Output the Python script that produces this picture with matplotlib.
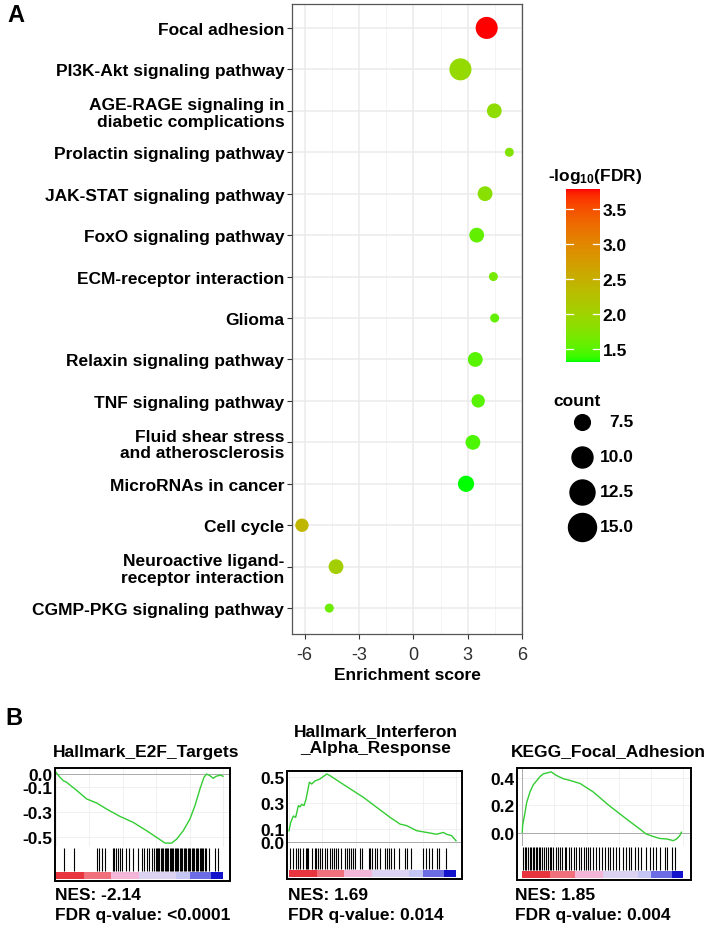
import numpy as np
import matplotlib
matplotlib.use("Agg")
import matplotlib.pyplot as plt
from matplotlib.colors import ListedColormap, Normalize, to_rgb
from matplotlib.lines import Line2D
from matplotlib.patches import Rectangle
from matplotlib.ticker import MultipleLocator

plt.rcParams.update({
    "font.family": ["Liberation Sans", "DejaVu Sans"],
    "font.weight": "bold",
    "mathtext.fontset": "custom",
    "mathtext.rm": "Liberation Sans:bold",
    "mathtext.it": "Liberation Sans:bold",
    "mathtext.bf": "Liberation Sans:bold",
})

W, H, DPI = 709, 929, 100

# ── panel A: KEGG bubble data ──
PATHWAYS = [
    "Focal adhesion",
    "PI3K-Akt signaling pathway",
    "AGE-RAGE signaling in\ndiabetic complications",
    "Prolactin signaling pathway",
    "JAK-STAT signaling pathway",
    "FoxO signaling pathway",
    "ECM-receptor interaction",
    "Glioma",
    "Relaxin signaling pathway",
    "TNF signaling pathway",
    "Fluid shear stress\nand atherosclerosis",
    "MicroRNAs in cancer",
    "Cell cycle",
    "Neuroactive ligand-\nreceptor interaction",
    "CGMP-PKG signaling pathway",
]
ENRICH = [4.05, 2.6, 4.47, 5.3, 3.96, 3.5, 4.42, 4.49, 3.42, 3.58, 3.29, 2.91, -6.15, -4.27, -4.64]
COUNTS = [15, 15, 10, 6, 10, 10, 6, 6, 10, 9, 10, 11, 9, 10, 6]
NEG_LOG_FDR = [3.79, 1.9, 1.85, 1.75, 1.8, 1.55, 1.65, 1.55, 1.5, 1.5, 1.45, 1.31, 2.4, 2.05, 1.6]
X_TICKS = [-6, -3, 0, 3, 6]
CBAR_TICKS = [1.5, 2.0, 2.5, 3.0, 3.5]
LEGEND_COUNTS = [7.5, 10.0, 12.5, 15.0]

# ── panel B: GSEA running enrichment scores ──
E2F_RANK = [0.0, 0.024, 0.044, 0.064, 0.124, 0.184, 0.244, 0.303, 0.383, 0.463, 0.543, 0.603,
            0.653, 0.693, 0.723, 0.762, 0.802, 0.832, 0.862, 0.886, 0.902, 0.922, 0.942,
            0.958, 0.972, 0.986, 1.0]
E2F_ES = [0.013, -0.026, -0.053, -0.066, -0.13, -0.198, -0.23, -0.278, -0.336, -0.384, -0.45,
          -0.503, -0.548, -0.548, -0.516, -0.45, -0.357, -0.251, -0.119, -0.026, 0.0, -0.013,
          -0.034, -0.018, -0.013, -0.008, -0.018]
E2F_HITS = [0.048, 0.108, 0.244, 0.259, 0.273, 0.293, 0.339, 0.349, 0.359, 0.373, 0.383, 0.393,
            0.419, 0.439, 0.463, 0.493, 0.513, 0.529, 0.543, 0.559, 0.573, 0.588, 0.597, 0.604,
            0.612, 0.618, 0.627, 0.636, 0.641, 0.650, 0.657, 0.665, 0.672, 0.680, 0.688, 0.694,
            0.703, 0.711, 0.718, 0.726, 0.733, 0.741, 0.750, 0.757, 0.764, 0.772, 0.781, 0.789,
            0.796, 0.804, 0.812, 0.819, 0.828, 0.836, 0.843, 0.851, 0.860, 0.867, 0.874, 0.883,
            0.891, 0.898, 0.918, 0.952, 0.970]

IFN_RANK = [0.0, 0.01, 0.026, 0.04, 0.056, 0.066, 0.076, 0.09, 0.102, 0.122, 0.136, 0.156,
            0.186, 0.226, 0.246, 0.305, 0.365, 0.445, 0.525, 0.605, 0.665, 0.705, 0.765,
            0.824, 0.884, 0.924, 0.944, 0.974, 1.0]
IFN_ES = [0.087, 0.15, 0.2, 0.19, 0.28, 0.27, 0.29, 0.28, 0.33, 0.46, 0.446, 0.47, 0.485,
          0.523, 0.51, 0.46, 0.41, 0.344, 0.267, 0.19, 0.138, 0.126, 0.087, 0.074, 0.06,
          0.074, 0.06, 0.049, 0.01]
IFN_HITS = [0.008, 0.024, 0.040, 0.054, 0.068, 0.084, 0.100, 0.108, 0.116, 0.139, 0.153, 0.163,
            0.173, 0.183, 0.199, 0.213, 0.227, 0.243, 0.259, 0.267, 0.279, 0.293, 0.313, 0.333,
            0.347, 0.359, 0.373, 0.386, 0.398, 0.426, 0.438, 0.478, 0.486, 0.498, 0.512, 0.526,
            0.542, 0.572, 0.586, 0.598, 0.612, 0.631, 0.661, 0.697, 0.705, 0.731, 0.801, 0.821,
            0.841, 0.857, 0.884, 0.900, 0.940]

FA_RANK = [0.0, 0.002, 0.017, 0.027, 0.048, 0.068, 0.089, 0.11, 0.13, 0.18, 0.21, 0.255, 0.296,
           0.36, 0.44, 0.54, 0.65, 0.73, 0.77, 0.81, 0.855, 0.90, 0.94, 0.96, 0.98, 0.99]
FA_ES = [0.005, 0.054, 0.15, 0.22, 0.30, 0.35, 0.38, 0.41, 0.43, 0.445, 0.42, 0.395, 0.383,
         0.36, 0.30, 0.20, 0.10, 0.03, -0.007, -0.024, -0.04, -0.044, -0.056, -0.044, -0.02, 0.005]
FA_HITS = [0.004, 0.015, 0.025, 0.035, 0.046, 0.056, 0.066, 0.075, 0.083, 0.091, 0.104, 0.112,
           0.124, 0.133, 0.145, 0.160, 0.170, 0.180, 0.191, 0.207, 0.222, 0.232, 0.249, 0.263,
           0.274, 0.290, 0.305, 0.320, 0.336, 0.353, 0.367, 0.382, 0.394, 0.409, 0.423, 0.440,
           0.461, 0.477, 0.498, 0.512, 0.533, 0.548, 0.564, 0.581, 0.602, 0.627, 0.643, 0.664,
           0.678, 0.699, 0.720, 0.741, 0.768, 0.793, 0.813, 0.834, 0.855, 0.886, 0.900, 0.934,
           0.948]

GSEA_TITLES = ["Hallmark_E2F_Targets", "Hallmark_Interferon\n_Alpha_Response", "KEGG_Focal_Adhesion"]
GSEA_NES = ["NES: -2.14", "NES: 1.69", "NES: 1.85"]
GSEA_FDR = ["FDR q-value: <0.0001", "FDR q-value: 0.014", "FDR q-value: 0.004"]
GSEA_YTICKS = [[0.0, -0.1, -0.3, -0.5], [0.5, 0.3, 0.1, 0.0], [0.4, 0.2, 0.0]]

RANK_EDGES = [0, 0.17, 0.33, 0.50, 0.72, 0.80, 0.93, 1.0]
RANK_COLORS = ["#E8343E", "#F0707C", "#F3B6D8", "#DCD2F2", "#C6C6F4", "#6C6CE4", "#1414CC"]
CURVE = "#33CC33"


def box(x0, y0, x1, y1):
    """pixel box (top-left origin) -> figure fraction rect"""
    return [x0 / W, 1 - y1 / H, (x1 - x0) / W, (y1 - y0) / H]


def fx(x):
    return x / W


def fy(y):
    return 1 - y / H


def lab_gradient(low, high, n=256):
    """ggplot-style gradient interpolated in CIE Lab."""
    M = np.array([[0.4124, 0.3576, 0.1805], [0.2126, 0.7152, 0.0722], [0.0193, 0.1192, 0.9505]])
    WHITE = np.array([0.95047, 1.0, 1.08883])
    d = 6 / 29

    def to_lab(c):
        rgb = np.array(to_rgb(c))
        lin = np.where(rgb <= 0.04045, rgb / 12.92, ((rgb + 0.055) / 1.055) ** 2.4)
        xyz = M @ lin / WHITE
        f = np.where(xyz > d ** 3, np.cbrt(xyz), xyz / (3 * d * d) + 4 / 29)
        return np.array([116 * f[1] - 16, 500 * (f[0] - f[1]), 200 * (f[1] - f[2])])

    t = np.linspace(0, 1, n)[:, None]
    lab = to_lab(low) * (1 - t) + to_lab(high) * t
    fyy = (lab[:, 0] + 16) / 116
    f = np.stack([fyy + lab[:, 1] / 500, fyy, fyy - lab[:, 2] / 200], -1)
    xyz = np.where(f > d, f ** 3, 3 * d * d * (f - 4 / 29)) * WHITE
    lin = np.clip(xyz @ np.linalg.inv(M).T, 0, 1)
    rgb = np.where(lin <= 0.0031308, 12.92 * lin, 1.055 * lin ** (1 / 2.4) - 0.055)
    return ListedColormap(np.clip(rgb, 0, 1))


fig = plt.figure(figsize=(W / DPI, H / DPI), dpi=DPI)

# ── panel A ──
ax = fig.add_axes(box(292, 5, 522, 635))
ypos = np.arange(len(PATHWAYS))
cmap = lab_gradient("#00FF00", "#FF0000")
norm = Normalize(min(NEG_LOG_FDR), max(NEG_LOG_FDR))
diam_pt = (1.45 * np.array(COUNTS) + 0.3) * 72 / DPI
ax.scatter(ENRICH, ypos, s=diam_pt ** 2, c=NEG_LOG_FDR, cmap=cmap, norm=norm,
           edgecolors="none", zorder=3)
ax.set_xlim(-6.7, 5.85)
ax.set_ylim(14.625, -0.577)
ax.set_xticks(X_TICKS)
ax.set_xticklabels([str(t) for t in X_TICKS], fontsize=13, fontweight="normal", color="#303030")
ax.set_xticks([-4.5, -1.5, 1.5, 4.5], minor=True)
ax.set_yticks(ypos)
ax.set_yticklabels(PATHWAYS, fontsize=12.5, linespacing=1.12)
ax.grid(which="major", color="#EBEBEB", lw=1.1, zorder=0)
ax.grid(which="minor", axis="x", color="#F3F3F3", lw=0.6, zorder=0)
ax.tick_params(which="major", length=3.5, width=0.8, color="#333333", pad=2)
ax.tick_params(axis="x", which="major", pad=5)
ax.tick_params(which="minor", length=0)
for s in ax.spines.values():
    s.set_color("#555555")
    s.set_linewidth(0.9)
ax.set_xlabel("Enrichment score", fontsize=12.5, fontweight="bold", labelpad=3)

# colour bar
cax = fig.add_axes(box(566, 190, 600, 363))
sm = plt.cm.ScalarMappable(norm=norm, cmap=cmap)
cb = fig.colorbar(sm, cax=cax, ticks=CBAR_TICKS)
cb.outline.set_visible(False)
cax.tick_params(length=0, pad=2)
cax.set_yticklabels([f"{t:.1f}" for t in CBAR_TICKS], fontsize=12.5)
tr = cax.get_yaxis_transform()
for t in CBAR_TICKS:
    cax.plot([0, 0.2], [t, t], color="white", lw=0.9, transform=tr)
    cax.plot([0.8, 1], [t, t], color="white", lw=0.9, transform=tr)
fig.text(fx(548), fy(177), r"-log$_{10}$(FDR)", fontsize=12.5, va="center")

# size legend
fig.text(fx(553), fy(402), "count", fontsize=12.5, va="center")
LEG_DIAM_PX = [15.7, 21, 25, 28]
for i, (c, dpx) in enumerate(zip(LEGEND_COUNTS, LEG_DIAM_PX)):
    yy = 423 + i * 35
    fig.add_artist(Line2D([fx(582)], [fy(yy)], transform=fig.transFigure, marker="o",
                          ms=dpx * 72 / DPI, color="black", lw=0))
    fig.text(fx(634), fy(yy), f"{c:.1f}", fontsize=12.5, ha="right", va="center")

fig.text(fx(7), fy(16), "A", fontsize=17, va="center")
fig.text(fx(5), fy(719), "B", fontsize=17, va="center")

# ── panel B ──
GEOM = [
    dict(b=(55, 769, 230, 882), split=848, xlim=(-0.006, 1.042), ylim=(-0.579, 0.048),
         title=(146, 752), txt=55, start=False),
    dict(b=(287, 772, 462, 880), split=848, xlim=(-0.012, 1.036), ylim=(-0.038, 0.546),
         title=(376, 740), txt=288, start=False),
    dict(b=(517, 769, 691, 881), split=847, xlim=(-0.033, 1.05), ylim=(-0.095, 0.473),
         title=(608, 752), txt=515, start=True),
]
SERIES = [(E2F_RANK, E2F_ES, E2F_HITS), (IFN_RANK, IFN_ES, IFN_HITS), (FA_RANK, FA_ES, FA_HITS)]

for g, (rank, es, hits), title, nes, fdr, yt in zip(GEOM, SERIES, GSEA_TITLES, GSEA_NES,
                                                  GSEA_FDR, GSEA_YTICKS):
    x0, y0, x1, y1 = g["b"]
    ae = fig.add_axes(box(x0, y0, x1, g["split"]))
    ae.plot(rank, es, color=CURVE, lw=1.0, zorder=3)
    ae.axhline(0, color="#AAAAAA", lw=0.7, zorder=2)
    if g["start"]:
        ae.axvline(0, color="#AAAAAA", lw=0.7, zorder=2)
    ae.set_xlim(*g["xlim"])
    ae.set_ylim(*g["ylim"])
    ae.xaxis.set_major_locator(MultipleLocator(0.2))
    ae.set_xticklabels([])
    ae.set_yticks(yt)
    ae.set_yticklabels([f"{v:.1f}" for v in yt], fontsize=12.5)
    ae.tick_params(axis="x", length=0)
    ae.tick_params(axis="y", length=0, pad=2)
    ae.grid(color="#EEEEEE", lw=0.6, zorder=0)
    for s in ae.spines.values():
        s.set_visible(False)
    ae.spines["bottom"].set_visible(True)
    ae.spines["bottom"].set_color("#BBBBBB")
    ae.spines["bottom"].set_linewidth(0.7)

    ah = fig.add_axes(box(x0, g["split"], x1, y1))
    ah.set_xlim(*g["xlim"])
    ah.set_ylim(0, 1)
    ah.vlines(hits, 0.3, 0.97, color="black", lw=0.8)
    for e0, e1, c in zip(RANK_EDGES[:-1], RANK_EDGES[1:], RANK_COLORS):
        ah.bar(e0, 0.21, width=e1 - e0, bottom=0.06, align="edge", color=c, lw=0)
    ah.set_xticks([])
    ah.set_yticks([])
    for s in ah.spines.values():
        s.set_visible(False)

    fig.add_artist(Rectangle((fx(x0), fy(y1)), (x1 - x0) / W, (y1 - y0) / H,
                             transform=fig.transFigure, fill=False, ec="black", lw=1.4))
    fig.text(fx(g["title"][0]), fy(g["title"][1]), title, fontsize=12.5, ha="center",
             va="center", linespacing=1.1)
    fig.text(fx(g["txt"]), fy(896), nes, fontsize=12.5, va="center")
    fig.text(fx(g["txt"]), fy(916), fdr, fontsize=12.5, va="center")

fig.savefig("out.png", dpi=DPI, facecolor="white")
